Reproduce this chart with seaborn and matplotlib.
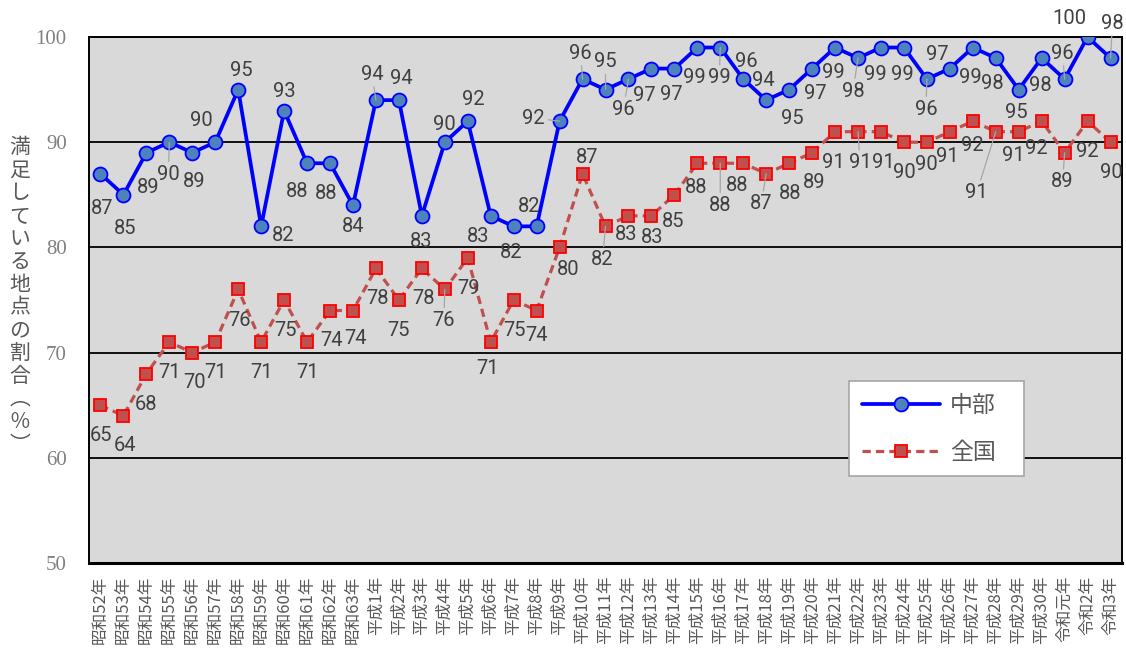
import numpy as np
import pandas as pd
import matplotlib
matplotlib.use("Agg")
import matplotlib.pyplot as plt
import seaborn as sns

# ---------------- data ----------------
years = ["昭和52年", "昭和53年", "昭和54年", "昭和55年", "昭和56年", "昭和57年",
         "昭和58年", "昭和59年", "昭和60年", "昭和61年", "昭和62年", "昭和63年",
         "平成1年", "平成2年", "平成3年", "平成4年", "平成5年", "平成6年",
         "平成7年", "平成8年", "平成9年", "平成10年", "平成11年", "平成12年",
         "平成13年", "平成14年", "平成15年", "平成16年", "平成17年", "平成18年",
         "平成19年", "平成20年", "平成21年", "平成22年", "平成23年", "平成24年",
         "平成25年", "平成26年", "平成27年", "平成28年", "平成29年", "平成30年",
         "令和元年", "令和2年", "令和3年"]

chubu = [87, 85, 89, 90, 89, 90, 95, 82, 93, 88, 88, 84,
         94, 94, 83, 90, 92, 83, 82, 82, 92, 96,
         95, 96, 97, 97, 99, 99, 96, 94, 95, 97,
         99, 98, 99, 99, 96, 97, 99, 98, 95, 98,
         96, 100, 98]

national = [65, 64, 68, 71, 70, 71, 76, 71, 75, 71, 74, 74,
            78, 75, 78, 76, 79, 71, 75, 74, 80, 87,
            82, 83, 83, 85, 88, 88, 88, 87, 88, 89,
            91, 91, 91, 90, 90, 91, 92, 91, 91, 92,
            89, 92, 90]

series_names = ["中部", "全国"]
y_ticks = [50, 60, 70, 80, 90, 100]
ylabel_chars = ["満", "足", "し", "て", "い", "る", "地", "点", "の", "割", "合", "︵", "％", "︶"]

# ---------------- label layout (pixel offsets, +dy = downwards) ----------------
chubu_off = [(2, 35), (2, 34), (2, 35), (-1, 32), (2, 29), (-14, -22), (3, -19), (22, 9),
             (0, -19), (-10, 28), (-4, 30), (0, 21), (-4, -26), (2, -22), (-1, 26), (0, -18),
             (6, -22), (-13, 21), (-3, 26), (-8, -20), (-26, -3), (-2, -26), (0, -28), (-5, 30),
             (-7, 27), (-3, 26), (-3, 30), (-1, 30), (3, -18), (-3, -20), (3, 29), (3, 25),
             (-2, 25), (-5, 33), (-6, 27), (-2, 27), (-1, 30), (-13, -14), (-2, 30), (-3, 25),
             (-2, 23), (-1, 27), (-2, -26), (-18, -19), (2, -35)]
chubu_lead = {3, 12, 20, 21, 22, 23, 27, 33, 36, 42, 44}

national_off = [(1, 30), (2, 30), (0, 31), (0, 30), (2, 30), (0, 30), (1, 31), (0, 30),
                (1, 31), (0, 30), (1, 30), (3, 28), (2, 30), (0, 31), (2, 30), (-1, 31),
                (1, 31), (-3, 26), (1, 31), (0, 25), (9, 22), (5, -16), (-3, 33), (-2, 19),
                (1, 22), (-1, 27), (-1, 24), (0, 42), (-6, 22), (-5, 30), (1, 30), (2, 30),
                (-2, 31), (2, 31), (2, 31), (0, 30), (-1, 22), (-2, 25), (0, 24), (-19, 61),
                (-5, 24), (-5, 27), (-2, 29), (0, 30), (1, 30)]
national_lead = {15, 22, 27, 29, 33, 39, 42}

# ---------------- style ----------------
sns.set_style("white")
plt.rcParams["font.family"] = ["Noto Sans CJK JP", "DejaVu Sans"]

W, H = 1126, 661
fig = plt.figure(figsize=(W / 100, H / 100), dpi=100)
L, R, T, B = 89, 1122, 37, 563
ax = fig.add_axes([L / W, 1 - B / H, (R - L) / W, (B - T) / H])
ax.set_facecolor("#d9d9d9")

pos = np.arange(len(years))
df = pd.DataFrame({"pos": pos, "year": years,
                   series_names[0]: chubu, series_names[1]: national})

sns.lineplot(data=df, x="pos", y=series_names[1], ax=ax, color="#C0504D",
             linewidth=2.3, linestyle=(0, (2.6, 1.6)), marker="s", markersize=8.3,
             markerfacecolor="#C0504D", markeredgecolor="#FF0000", markeredgewidth=1.3,
             label=series_names[1], zorder=3)
sns.lineplot(data=df, x="pos", y=series_names[0], ax=ax, color="#0000FF",
             linewidth=2.7, marker="o", markersize=10,
             markerfacecolor="#4F81BD", markeredgecolor="#0000FF", markeredgewidth=1.3,
             label=series_names[0], zorder=3)

label_font = dict(fontsize=14.5, color="#404040", family="Roboto",
                  ha="center", va="center", annotation_clip=False, zorder=5)
lead_props = dict(arrowstyle="-", color="#a6a6a6", lw=0.9, shrinkA=0, shrinkB=0)

for vals, offs, leads in ((chubu, chubu_off, chubu_lead),
                          (national, national_off, national_lead)):
    for i, v in enumerate(vals):
        dx, dy = offs[i]
        kw = {"arrowprops": lead_props} if i in leads else {}
        ax.annotate(str(v), (pos[i], v), xytext=(dx, -dy), textcoords="offset pixels",
                    **label_font, **kw)

# axes
ax.set_xlim(-0.5, len(years) - 0.5)
ax.set_ylim(50, 100)
ax.set_yticks(y_ticks)
ax.tick_params(axis="y", length=0, pad=16, labelsize=15, labelcolor="#808080")
for lbl in ax.get_yticklabels():
    lbl.set_fontfamily("Liberation Serif")

ax.set_xticks(pos)
ax.set_xticklabels(years, rotation=90, fontsize=12, color="#595959")
ax.tick_params(axis="x", which="major", length=0, pad=9)
ax.set_xticks(pos[:-1] + 0.5, minor=True)
ax.tick_params(axis="x", which="minor", direction="in", length=5, width=1, color="black")

ax.grid(axis="y", color="black", linewidth=1.3)
ax.grid(axis="x", visible=False)
ax.set_axisbelow(True)
for side in ["top", "right", "left"]:
    ax.spines[side].set_color("black")
    ax.spines[side].set_linewidth(1.4)
ax.spines["bottom"].set_color("black")
ax.spines["bottom"].set_linewidth(2.2)
ax.set_xlabel("")
ax.set_ylabel("")

# y axis title (vertical writing)
fig.text(20 / W, 1 - 296 / H, "\n".join(ylabel_chars), ha="center", va="center",
         fontsize=15, color="#595959", linespacing=1.05, multialignment="center")

# legend
handles, labels = ax.get_legend_handles_labels()
order = [labels.index(n) for n in series_names]
leg = ax.legend([handles[k] for k in order], [labels[k] for k in order],
                loc="upper left", bbox_to_anchor=(849 / W, 1 - 481 / H, 175 / W, 100 / H),
                bbox_transform=fig.transFigure, mode="expand", borderaxespad=0,
                fontsize=16.5, handlelength=3.4, handletextpad=0.45, borderpad=0.55,
                labelspacing=1.05, fancybox=False, framealpha=1, facecolor="white",
                edgecolor="#a6a6a6", labelcolor="#595959")
leg.get_frame().set_linewidth(1.2)

fig.savefig("out.png", dpi=100)
